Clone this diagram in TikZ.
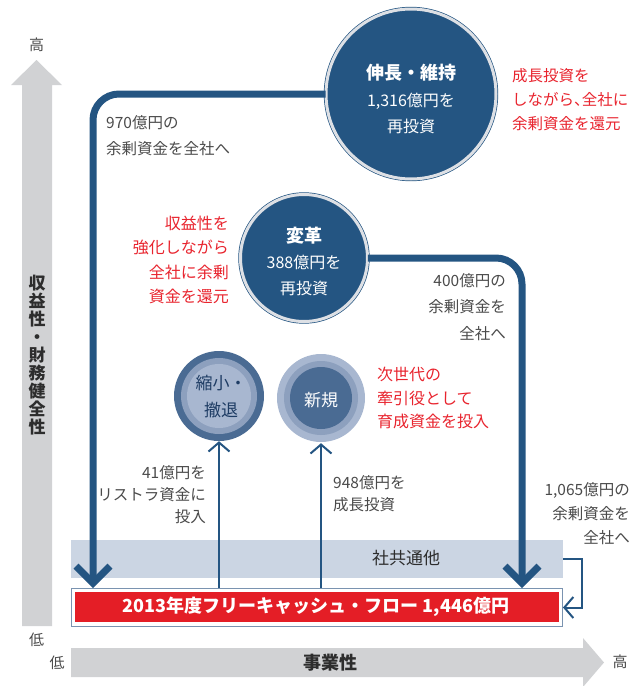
\documentclass[tikz,border=0pt]{standalone}
\usepackage{fontspec}
\setmainfont{Noto Sans CJK JP}
\usetikzlibrary{arrows.meta,calc}
\definecolor{dkblue}{RGB}{36,85,130}
\definecolor{ringgray}{RGB}{221,224,229}
\definecolor{cfred}{RGB}{228,30,38}
\definecolor{redtxt}{RGB}{232,36,46}
\definecolor{grayarrow}{RGB}{209,210,212}
\definecolor{bandcol}{RGB}{203,213,227}
\definecolor{cOuter}{RGB}{74,107,147}
\definecolor{cMid}{RGB}{141,160,190}
\definecolor{cInner}{RGB}{168,183,208}
\definecolor{framecol}{RGB}{122,147,176}
\definecolor{txtgray}{RGB}{74,74,74}
\definecolor{txtdark}{RGB}{45,45,45}
\definecolor{navytxt}{RGB}{30,60,100}
\begin{document}
\begin{tikzpicture}[x=1pt,y=-1pt,
  lbl/.style={inner sep=0pt, text=txtgray},
  rlbl/.style={inner sep=0pt, text=redtxt, font=\fontsize{16}{24}\selectfont},
  bigflow/.style={draw=dkblue, line width=7pt, rounded corners=26pt,
     -{Straight Barb[length=17pt, width=34pt, line cap=butt, line join=miter]}},
  thinflow/.style={draw=dkblue, line width=2pt,
     -{Straight Barb[length=9pt, width=21pt, line cap=butt, line join=miter]}},
  bigcirc/.style={circle, fill=dkblue, draw=dkblue, double=ringgray,
     double distance=3pt, line width=0.7pt, inner sep=0pt},
  smallcirc/.style={circle, inner sep=0pt, minimum size=90pt},
  ctext/.style={inner sep=0pt, text=white, align=center}
]
\useasboundingbox (0,0) rectangle (632,686);

% axes
\fill[grayarrow] (22,626) -- (22,85) -- (11,85) -- (36.5,60) -- (62,85) -- (52,85) -- (52,626) -- cycle;
\fill[grayarrow] (71,648) -- (583,648) -- (583,638) -- (604,662.5) -- (583,687) -- (583,677) -- (71,677) -- cycle;
\node[lbl, font=\fontsize{15}{15}\selectfont] (hiY) at (36.5,45) {高};
\node[lbl, font=\fontsize{15}{15}\selectfont] (loY) at (36.5,640) {低};
\node[lbl, font=\fontsize{15}{15}\selectfont] (loX) at (57,663) {低};
\node[lbl, font=\fontsize{15}{15}\selectfont] (hiX) at (620,662) {高};
\node[inner sep=0pt, text=txtdark, font=\fontsize{17}{18}\selectfont\bfseries, align=center] (vlab) at (37,355)
  {収\\益\\性\\・\\財\\務\\健\\全\\性};
\node[inner sep=0pt, text=txtdark, font=\fontsize{18}{18}\selectfont\bfseries] (hlab) at (330,663) {事業性};

% band and cash flow box
\node[fill=bandcol, minimum width=492pt, minimum height=38pt, inner sep=0pt, anchor=north west] (band) at (71,540) {};
\node[inner sep=0pt, text=txtdark, font=\fontsize{17}{17}\selectfont] (bandtxt) at (406,558) {社共通他};
\node[draw=framecol, line width=1pt, fill=white, minimum width=491pt, minimum height=38pt, inner sep=0pt, anchor=north west] (fcf) at (71,588) {};
\fill[cfred] (75,592) rectangle (558.5,622);
\node[inner sep=0pt, text=white, font=\fontsize{18}{18}\selectfont\bfseries] (fcftxt) at (316,607) {2013年度フリーキャッシュ・フロー 1,446億円};

% big circles
\node[bigcirc, minimum size=170pt] (grow) at (411,94) {};
\node[ctext, font=\fontsize{16}{26.5}\selectfont] (growtxt) at (411,99)
  {{\fontsize{18}{26.5}\selectfont\bfseries 伸長・維持}\\1,316億円を\\再投資};
\node[bigcirc, minimum size=127pt] (chg) at (304,258) {};
\node[ctext, font=\fontsize{16}{26}\selectfont] (chgtxt) at (304,261)
  {{\fontsize{18}{26}\selectfont\bfseries 変革}\\388億円を\\再投資};

% small circles
\fill[cOuter] (219,396) circle (45);
\fill[cMid] (219,396) circle (38);
\fill[cInner] (219,396) circle (32);
\node[smallcirc] (shr) at (219,396) {};
\node[inner sep=0pt, text=navytxt, align=center, font=\fontsize{17}{27}\selectfont] (shrtxt) at (221,397) {縮小・\\撤退};
\fill[cInner] (321,398) circle (44);
\fill[cMid] (321,398) circle (37);
\fill[cOuter] (321,398) circle (31);
\node[smallcirc] (nw) at (321,398) {};
\node[inner sep=0pt, text=white, font=\fontsize{17}{17}\selectfont] (nwtxt) at (321,400) {新規};

% flows
\draw[bigflow] (grow.west) -- (93,94) -- (93,94 |- fcf.north);
\draw[bigflow] (chg.east) -- (522,258) -- (522,258 |- fcf.north);
\draw[thinflow] (shr.south |- fcf.north) -- (shr.south);
\draw[thinflow] (nw.south |- fcf.north) -- (nw.south);
\draw[thinflow] (band.east) -- ++(19,0) |- (fcf.east);

% labels
\node[lbl, anchor=west, align=left, font=\fontsize{15.5}{26}\selectfont] (l970) at (106,136) {970億円の\\余剰資金を全社へ};
\node[rlbl, anchor=west, align=left, font=\fontsize{15.5}{24}\selectfont] (r1) at (512,100) {成長投資を\\しながら\makebox[0.5em][l]{、}全社に\\余剰資金を還元};
\node[rlbl, anchor=east, align=right, font=\fontsize{16}{24.5}\selectfont] (r2) at (229,260) {収益性を\\強化しながら\\全社に余剰\\資金を還元};
\node[lbl, anchor=east, align=right, font=\fontsize{15.5}{26.5}\selectfont] (l400) at (506,307) {400億円の\\余剰資金を\\全社へ};
\node[rlbl, anchor=west, align=left, font=\fontsize{16}{23.5}\selectfont] (r3) at (377,398) {次世代の\\牽引役として\\育成資金を投入};
\node[lbl, anchor=east, align=right, font=\fontsize{15.5}{22}\selectfont] (l41) at (206,495) {41億円を\\リストラ資金に\\投入};
\node[lbl, anchor=west, align=left, font=\fontsize{15.5}{22}\selectfont] (l948) at (333,494) {948億円を\\成長投資};
\node[lbl, anchor=east, align=right, font=\fontsize{15.5}{24}\selectfont] (l1065) at (630,514) {1,065億円の\\余剰資金を\\全社へ};
\end{tikzpicture}
\end{document}
